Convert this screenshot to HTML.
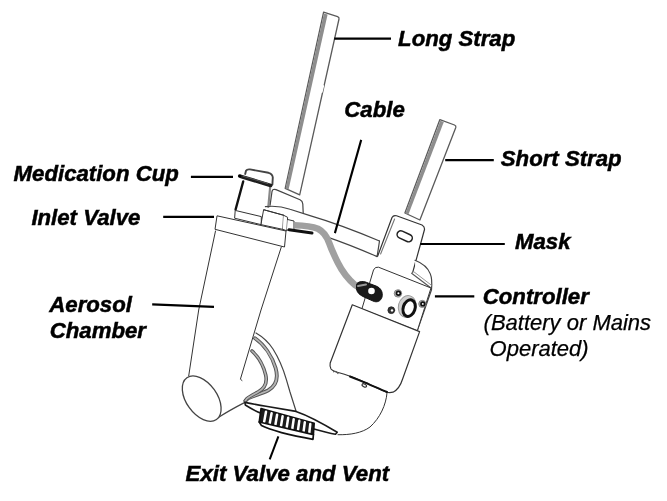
<!DOCTYPE html>
<html><head><meta charset="utf-8"><style>
html,body{margin:0;padding:0;background:#fff;}
svg{display:block;will-change:transform;}
.lb{font-family:"Liberation Sans",sans-serif;font-weight:bold;font-style:italic;font-size:22.2px;fill:#000;stroke:#000;stroke-width:0.5px;}
.li{font-family:"Liberation Sans",sans-serif;font-style:italic;font-size:22px;fill:#000;stroke:#000;stroke-width:0.25px;}
</style></head><body>
<svg width="667" height="501" viewBox="0 0 667 501">
<rect width="667" height="501" fill="#fff"/>

<!-- ===== DEVICE ===== -->
<g fill="none" stroke="#333" stroke-width="1" stroke-linejoin="round" stroke-linecap="round">

<!-- long strap -->
<path d="M323.6,12.2 L337.6,16.6 Q339.4,17.4 339,19 L299.7,194.8 L285.2,188.3 Z" fill="#fff" stroke="#5a5a5a" stroke-width="1.3"/>
<path d="M323.9,13.4 L327.6,14.6 L288.6,189.6 L285.6,188.3 Z" fill="#8e8e8e" stroke="none"/>
<path d="M323.1,86 L321.6,92" stroke="#fff" stroke-width="2"/>

<!-- short strap -->
<path d="M439.9,119.6 L454.5,125 Q456.3,125.8 455.8,127.4 L419.9,220 L404.9,213 Z" fill="#fff" stroke="#5a5a5a" stroke-width="1.3"/>
<path d="M440.2,120.8 L443.8,122.1 L408.4,214.6 L405.4,213.2 Z" fill="#8e8e8e" stroke="none"/>

<!-- mask band -->

<!-- mask bracket -->
<path d="M377.6,256.3 L392,217.5 Q393.5,214.8 396.5,215.8 L422,225 Q424.8,226.5 424.5,229.5 L420.7,243.5 L412.7,272.3 Z" fill="#fff" stroke="none"/>
<path d="M377.6,256.3 L392,217.5 Q393.5,214.8 396.5,215.8 L422,225 Q424.8,226.5 424.5,229.5 L420.7,243.5 L412.7,272.3" stroke="#333" stroke-width="1.2"/>
<path d="M380.6,254 L394.6,219" stroke="#777" stroke-width="1.1"/>
<rect x="396.7" y="232.6" width="16" height="7.4" rx="3.7" transform="rotate(25 404.7 236.3)" stroke="#222" stroke-width="1.5"/>

<!-- mask cushion -->
<path d="M415,260.3 C 422,263 428,268 430.3,273.9 C 432,278 432,284 431.5,289.8 L417.4,330.4" fill="#fff" stroke="#444" stroke-width="1.2"/>
<path d="M411.6,273.2 L431,288" stroke="#555" stroke-width="1.1"/><path d="M413.5,271.5 L431.5,285.3" stroke="#888" stroke-width="0.9"/>

<!-- lower body -->
<path d="M240,379 L255.6,332.6 C 268,342 283,365 289,383 L294.2,404.4 L337,433 C 355,436 372,428 380,414 C 385,405 387,398 387,393 L352,305 Z" fill="#fff" stroke="none"/>
<path d="M387,393 C 386,405 380,418 370,427 C 362,433 350,435 338,434.7"/>

<!-- vent housing -->
<path d="M256,333 C 263,337 269,343 273,349 C 278,357 283,368 286.3,379.3 L290,392 L296,411" stroke="#444" stroke-width="1.2"/>
<path d="M255,338.2 C 264,344.5 272,356 275.6,368 C 278.5,378 276,386 268,390.5 C 261,393.8 254,395.5 248,398.4 L245.6,400.6" stroke="#555" stroke-width="3.8"/>
<path d="M255,338.2 C 264,344.5 272,356 275.6,368 C 278.5,378 276,386 268,390.5 C 261,393.8 254,395.5 248,398.4 L245.6,400.6" stroke="#b4b4b4" stroke-width="1.8"/>
<path d="M252,351 C 258,356.5 263.5,366 265.7,375 C 267.5,383 264.5,388.5 258,392 C 254,394.2 250,396 247,398.6 L245.2,401" stroke="#555" stroke-width="3.6"/>
<path d="M252,351 C 258,356.5 263.5,366 265.7,375 C 267.5,383 264.5,388.5 258,392 C 254,394.2 250,396 247,398.6 L245.2,401" stroke="#b4b4b4" stroke-width="1.6"/>

<!-- aerosol chamber -->
<path d="M215.5,231 L188.7,375.9 L240.4,379.2 L281.4,246.7 Z" fill="#fff" stroke="none"/>
<path d="M215.5,231 L198.7,310 L188.7,375.9"/>
<path d="M281.4,246.7 L261,310 L240.4,379.2 L242,380.5"/>
<!-- elbow -->
<path d="M218.3,417.6 C 226,412.5 235,407.5 244.9,402.4" stroke="#444" stroke-width="1.2"/>
<ellipse cx="201.7" cy="398.6" rx="15.4" ry="25.6" transform="rotate(-35.3 201.7 398.6)" fill="#fff" stroke="#444" stroke-width="1.3"/>

<!-- inlet flange -->
<path d="M217.4,215.9 L286,231 L284.5,247 L215.4,229.4 Z" fill="#fff"/>

<!-- medication cup -->
<path d="M243,181.5 L235.5,210.5 L261.3,216.6 L270,186.5 Z" fill="#fff" stroke="none"/>
<path d="M243.2,181.5 L235.6,209.5" stroke="#111" stroke-width="2.4"/>
<path d="M270.2,186.5 L268.3,207" stroke="#888" stroke-width="2.2"/>
<!-- cup base -->
<path d="M235.6,210.5 L261.3,216.6 L261.3,224.7 L235,218.3 Z" fill="#fff"/>
<path d="M245.2,174 L246,170.8 Q247,169 250,169.4 L268.5,172.8 Q272.6,174 272.8,177.5 L272.4,184.5" fill="#fff" stroke="#444" stroke-width="1.9"/>
<path d="M241,176.4 L270.6,185.4" stroke="#1e1e1e" stroke-width="3.7"/>
<path d="M243,176.2 L268,183.6" stroke="#555" stroke-width="1"/>
<circle cx="239.6" cy="176" r="1.7" fill="#000" stroke="none"/>

<!-- long strap bracket -->
<path d="M270.1,205.2 L272,191.5 Q272.8,188.6 276,189.6 L300,199.8 Q302.6,201 302.8,204 L303.2,212.7" fill="#fff" stroke="#444" stroke-width="1.2"/>

<!-- inlet connector -->
<path d="M264,209.8 L283.5,215.2 L282.9,229.4 L261.3,224.7 Z" fill="#fff"/>
<path d="M283.5,215.2 L287.6,217.3 L286.9,230.8 L282.9,229.4" fill="#fff"/>
<path d="M287.6,219.5 L294,221 L294,230 L286.9,230" fill="#fff" stroke="#333"/>
<!-- band top edge -->
<path d="M265.4,206.6 C 275,205.6 283,206.8 290,209.3 L310,215.6 C 330,221.5 350,228.5 379.5,241" stroke="#444" stroke-width="1.2"/>
<path d="M264,209.8 L283.5,215.2" stroke="#333"/>
<path d="M326,236.6 C 345,243 362,250 377.1,256.6 L379.5,241" stroke="#444" stroke-width="1.2"/>
<path d="M289.1,229.7 L312,233" stroke="#111" stroke-width="3"/>

<!-- cable -->
<path d="M294.5,225.2 C 302,225.4 312,226.3 318,228.8 C 324,231.8 327,237 329.2,243 C 332,251 335,257 338,263 C 342,271 348,279 355,285 C 358,287.5 361,288.5 364,289" stroke="#a0a0a0" stroke-width="6.6" stroke-linecap="butt"/>

<!-- controller face plate -->
<path d="M362,308.6 L373.5,270 Q375,266.5 378.5,267.2 L431,288 L417.4,330.4 Z" fill="#fff"/>
<!-- battery box -->
<path d="M352.3,304.8 L419.6,331.6 L402.6,379 Q399.5,389 393,392.2 Q389,393 386.2,392 C 378,388.5 368,383.5 361,380.6 C 355,378 346,374.5 340,373 Q333,371.5 331,369 Q329.5,366.5 330.2,363 Z" fill="#fff" stroke="#333" stroke-width="1.2"/>
<path d="M350,376.5 C 356,378.8 362,381.5 368,383.8 C 375,386.8 381,389.6 387,392" stroke="#111" stroke-width="2"/>
<path d="M333.5,371.8 Q336,370.5 338,373.5" stroke="#555" stroke-width="1.2"/>
<ellipse cx="364.3" cy="385.4" rx="2.4" ry="1.4" transform="rotate(25 364.3 385.4)" fill="#fff" stroke="#333" stroke-width="1.1"/>

<!-- cable plug -->
<path d="M357,283.5 C 359,281 364,281 368,283 L376,286 C 381,288 383,292 382,297 C 381,301 377,303 373,301 L364,297 C 360,295 357,293 356.5,289 Z" fill="#1a1a1a" stroke="#111" stroke-width="1"/>
<path d="M358,286 L366,284.5" stroke="#999" stroke-width="2"/>
<circle cx="371.5" cy="291" r="3.3" fill="#fff" stroke="none"/>

<!-- screws & button -->
<circle cx="397.9" cy="293.4" r="3.7" fill="#b0b0b0" stroke="#777" stroke-width="0.8"/>
<circle cx="398.4" cy="293.2" r="1.9" fill="#fff" stroke="#111" stroke-width="1.7"/>
<circle cx="391.3" cy="310.2" r="3.4" fill="#333" stroke="#222" stroke-width="0.8"/>
<circle cx="392" cy="310.4" r="1.2" fill="#fff" stroke="none"/>
<circle cx="422.3" cy="303.9" r="3.6" fill="#b0b0b0" stroke="#777" stroke-width="0.8"/>
<circle cx="422.8" cy="303.9" r="1.8" fill="#fff" stroke="#111" stroke-width="1.7"/>
<ellipse cx="407.2" cy="306.5" rx="8.8" ry="11" transform="rotate(15 407.2 306.5)" fill="#d0d0d0" stroke="#999" stroke-width="1"/>
<ellipse cx="409.1" cy="308.1" rx="5.9" ry="8.5" transform="rotate(18 409.1 308.1)" fill="#fff" stroke="#111" stroke-width="3"/>

<!-- flange + knob -->
<path d="M244.9,402.4 C 252,403.8 258,405 266,406.3 L296,411.4 C 308,415.5 322,423 337.2,432.2 L335.5,434.2 C 326,432.5 318,430 309,427.5 L262,413.5 C 256,411.5 250,408 245.3,405 Z" fill="#fff" stroke="#1a1a1a" stroke-width="1.6"/>
<path d="M261,408.6 L314.2,423.2 L313.4,434.6 L259.2,422 Z" fill="#1c1c1c" stroke="#111" stroke-width="1.6"/>
<g stroke="#fff" stroke-width="2.5">
<path d="M266.0,411.7 L264.1,422.1"/>
<path d="M271.6,413.2 L269.7,423.4"/>
<path d="M277.1,414.7 L275.4,424.7"/>
<path d="M282.6,416.3 L281.0,426.1"/>
<path d="M288.2,417.8 L286.7,427.4"/>
<path d="M293.7,419.3 L292.3,428.7"/>
<path d="M299.3,420.8 L298.0,430.0"/>
<path d="M304.8,422.3 L303.6,431.3"/>
<path d="M310.3,423.9 L309.3,432.6"/>
</g>
<path d="M259.2,422 L313.4,434.6 L313,439.3 C 300,437 290,434.8 281.5,432.6 C 273,430.2 266,428 261.5,425.6 Z" fill="#fff" stroke="#111" stroke-width="1.7"/>
</g>

<!-- ===== LEADER LINES ===== -->
<g stroke="#000" stroke-width="2.2" fill="none" stroke-linecap="butt">
<path d="M334.2,38.6 L391,38.6"/>
<path d="M445.2,160.2 L493.8,160.2"/>
<path d="M190.9,176.8 L233,176.8"/>
<path d="M163.2,216.9 L214,216.9"/>
<path d="M420.2,243.9 L504.8,243.9" stroke-width="2"/>
<path d="M434.9,296.3 L474.3,296.3"/>
<path d="M152.2,304.4 L214,306.8"/>
<path d="M361.2,139.9 L334.9,233.1" stroke-width="2.1"/>
<path d="M278.4,436.3 L269.7,459.3" stroke-width="2"/>
</g>

<!-- ===== LABELS ===== -->
<text class="lb" x="398.1" y="46">Long Strap</text>
<text class="lb" x="344.3" y="116.6">Cable</text>
<text class="lb" x="500.8" y="165.7">Short Strap</text>
<text class="lb" x="13.6" y="181.4">Medication Cup</text>
<text class="lb" x="31.4" y="224.6">Inlet Valve</text>
<text class="lb" x="515" y="248.8">Mask</text>
<text class="lb" x="482.8" y="303.6">Controller</text>
<text class="li" x="483.6" y="329.6">(Battery or Mains</text>
<text class="li" x="489.6" y="356.2">Operated)</text>
<text class="lb" x="49.3" y="311.9">Aerosol</text>
<text class="lb" x="49.8" y="338.4">Chamber</text>
<text class="lb" x="185.6" y="481.2" textLength="203.5">Exit Valve and Vent</text>
</svg>
</body></html>
